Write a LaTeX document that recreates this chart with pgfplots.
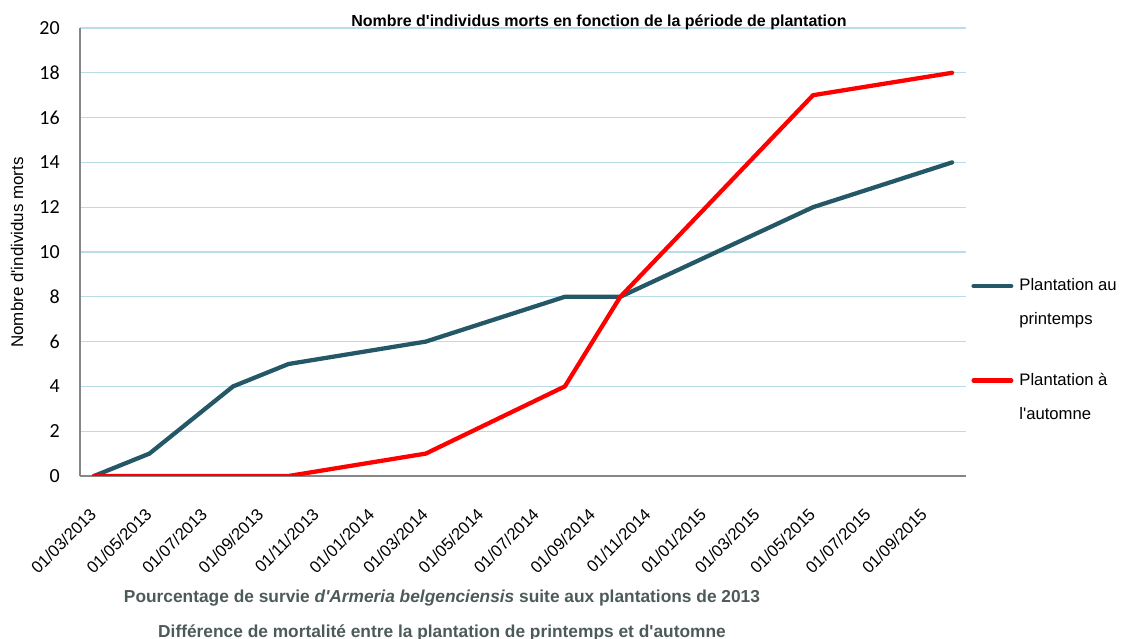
\documentclass[border=0pt]{standalone}
\usepackage{fontspec}
\setmainfont{Liberation Sans}[Ligatures=TeXOff]
\newfontfamily\calibri{Carlito}
\usepackage{pgfplots}
\pgfplotsset{compat=1.18}
\definecolor{spring}{RGB}{36,88,102}
\definecolor{autumn}{RGB}{255,0,0}
\definecolor{gridblue}{RGB}{185,221,232}
\definecolor{axisgray}{RGB}{134,134,134}
\definecolor{notegray}{RGB}{77,90,90}
\begin{document}
\begin{tikzpicture}
\useasboundingbox (0,0) rectangle (849.75pt,479.25pt);
\begin{axis}[
  at={(60pt,122.25pt)}, anchor=south west,
  scale only axis, width=664.5pt, height=336pt,
  xmin=-15.4, xmax=959.3, ymin=0, ymax=20,
  axis x line*=bottom, axis y line*=left,
  axis line style={axisgray, line width=1.5pt},
  major tick length=0pt,
  ytick={0,2,...,20},
  ymajorgrids, grid style={gridblue, line width=1pt},
  xtick={0,61,122,184,245,306,365,426,487,549,610,671,730,791,852,914},
  xticklabels={01/03/2013,01/05/2013,01/07/2013,01/09/2013,01/11/2013,01/01/2014,01/03/2014,01/05/2014,01/07/2014,01/09/2014,01/11/2014,01/01/2015,01/03/2015,01/05/2015,01/07/2015,01/09/2015},
  xticklabel style={font=\fontsize{12.5}{15}\selectfont, xshift=-4pt, yshift=-23pt, rotate=45, anchor=north east, inner sep=0pt},
  /pgf/number format/assume math mode=true,
  yticklabel style={font=\calibri\fontsize{15}{18}\selectfont, anchor=east, inner sep=0pt, xshift=-15pt},
  legend cell align=left,
  legend style={draw=none, fill=none, inner sep=0pt,
    at={(axis description cs:1.0034,0.441)}, anchor=north west,
    row sep=34.75pt,
    /tikz/every odd column/.append style={column sep=4.5pt},
    nodes={align=left, font=\fontsize{12.5}{25.5}\selectfont, inner sep=0pt}},
  legend image code/.code={\path (0pt,-12.5pt); \draw[#1, line cap=round] (1.6pt,12.5pt) -- (29.9pt,12.5pt);},
]
\addplot[spring, line width=3.2pt, line join=round, line cap=round] coordinates {
  (0,0) (61,1) (153,4) (214,5) (365,6) (518,8) (579,8) (791,12) (944,14)
};
\addlegendentry{Plantation au\\printemps}
\addplot[autumn, line width=3.2pt, line join=round, line cap=round] coordinates {
  (0,0) (61,0) (153,0) (214,0) (365,1) (518,4) (579,8) (791,17) (944,18)
};
\addlegendentry{Plantation à\\l'automne}
\end{axis}
\node[font=\bfseries\fontsize{12}{14}\selectfont] at (449.25pt,462.75pt)
  {Nombre d'individus morts en fonction de la période de plantation};
\node[rotate=90, font=\fontsize{12.7}{15}\selectfont] at (12.75pt,289.9pt)
  {Nombre d'individus morts};
\node[font=\bfseries\fontsize{13}{15}\selectfont, text=notegray] at (331.5pt,30.75pt)
  {Pourcentage de survie \textit{d'Armeria belgenciensis} suite aux plantations de 2013};
\node[font=\bfseries\fontsize{13}{15}\selectfont, text=notegray] at (331.5pt,4.5pt)
  {Différence de mortalité entre la plantation de printemps et d'automne};
\end{tikzpicture}
\end{document}
